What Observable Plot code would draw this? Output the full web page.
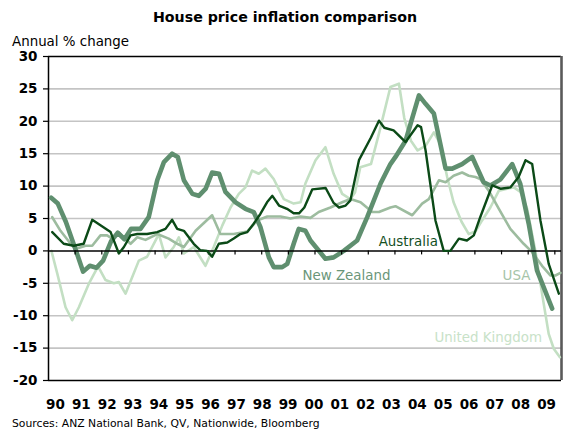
<!DOCTYPE html>
<html><head><meta charset="utf-8">
<script src="https://cdn.jsdelivr.net/npm/d3@7"></script>
<script src="https://cdn.jsdelivr.net/npm/@observablehq/plot@0.6"></script>
<style>
body{margin:0;background:#fff;font-family:"DejaVu Sans",Verdana,sans-serif;}
#wrap{position:relative;width:578px;height:435px;overflow:hidden;}
#wrap svg{position:absolute;left:0;top:0;}
.t{position:absolute;white-space:nowrap;color:#000;z-index:2;}
#title{left:0;width:570px;text-align:center;top:9px;font-size:14.2px;font-weight:bold;}
#ylab{left:12px;top:34px;font-size:13.4px;}
#src{left:12px;top:417px;font-size:10.8px;}
</style></head><body>
<div id="wrap">
<div class="t" id="title">House price inflation comparison</div>
<div class="t" id="ylab">Annual % change</div>
<div class="t" id="src">Sources: ANZ National Bank, QV, Nationwide, Bloomberg</div>
</div>
<script>
// ---- data ----
const ausYears = [1990.14,1990.57,1990.95,1991.32,1991.64,1992.33,1992.64,1992.83,1993.08,1993.33,1993.70,1994.08,1994.39,1994.64,1994.83,1995.08,1995.45,1995.70,1995.95,1996.14,1996.39,1996.71,1996.95,1997.20,1997.46,1997.70,1997.95,1998.2,1998.4,1998.65,1998.95,1999.2,1999.4,1999.6,1999.9,2000.4,2000.7,2000.9,2001.15,2001.33,2001.65,2002.1,2002.4,2002.6,2002.95,2003.4,2003.85,2003.98,2004.15,2004.52,2004.83,2005.08,2005.4,2005.7,2005.96,2006.2,2006.65,2006.96,2007.33,2007.64,2007.9,2008.15,2008.46,2008.77,2009.15];
const ausValues = [2.9,1.1,0.8,1.1,4.8,2.9,-0.4,0.6,2.4,2.6,2.6,2.9,3.4,4.8,3.4,3.1,1.1,0.1,0.0,-0.9,1.1,1.3,1.9,2.6,2.9,4.2,5.7,7.5,8.5,7.0,6.5,5.8,5.8,6.7,9.5,9.7,7.4,6.7,7.0,7.8,14.0,17.5,20.1,19.0,18.6,16.8,19.4,19.1,15.5,4.7,0.0,0.0,1.9,1.6,2.4,5.2,10.1,9.6,9.8,11.4,14.0,13.4,4.7,-2.0,-6.6];

const nzYears = [1990.1,1990.35,1990.65,1990.95,1991.3,1991.55,1991.8,1992.05,1992.35,1992.6,1992.85,1993.1,1993.45,1993.76,1994.08,1994.33,1994.64,1994.85,1995.08,1995.4,1995.64,1995.9,1996.14,1996.4,1996.64,1997.02,1997.39,1997.7,1997.95,1998.27,1998.45,1998.77,1998.96,1999.2,1999.39,1999.64,1999.83,2000.39,2000.7,2001.08,2001.58,2001.96,2002.46,2002.83,2003.02,2003.4,2003.9,2004.15,2004.46,2004.9,2005.15,2005.52,2005.9,2006.33,2006.58,2006.95,2007.4,2007.7,2008.02,2008.33,2008.9];
const nzValues = [8.2,7.3,4.5,1.0,-3.2,-2.3,-2.6,-1.5,1.5,2.8,1.8,3.4,3.4,5.2,10.9,13.7,15.0,14.5,10.9,8.8,8.5,9.6,12.1,11.9,9.1,7.5,6.5,6.0,3.7,-1.0,-2.5,-2.5,-2.0,1.1,3.4,3.1,1.6,-1.2,-1.0,0.0,1.6,5.2,10.4,13.4,14.5,17.0,24.0,22.7,21.2,12.7,12.7,13.4,14.5,10.6,10.1,11.0,13.4,10.4,4.2,-3.0,-8.9];

const usaYears = [1990.14,1990.45,1990.83,1991.01,1991.39,1991.64,1991.95,1992.2,1992.39,1992.64,1993.08,1993.33,1993.64,1994.08,1994.51,1994.83,1995.08,1995.52,1996.14,1996.45,1996.95,1997.46,1997.83,1998.21,1998.71,1999.08,1999.46,1999.83,2000.14,2000.58,2001.02,2001.33,2001.71,2002.15,2002.4,2002.83,2003.02,2003.65,2004.02,2004.27,2004.65,2004.9,2005.2,2005.52,2005.77,2006.02,2006.2,2006.52,2006.9,2007.33,2007.83,2008.15,2008.52,2008.84,2009.02,2009.21];
const usaValues = [5.2,3.1,1.1,0.3,0.8,0.8,2.4,2.4,1.9,2.8,1.1,2.1,1.7,2.6,1.9,1.1,0.6,3.1,5.5,2.6,2.6,3.0,4.7,5.3,5.3,5.0,5.3,5.1,6.0,6.7,7.5,8.0,7.5,6.0,6.0,6.7,6.9,5.5,7.3,8.0,10.9,10.6,11.6,12.1,11.6,11.4,11.1,9.3,6.5,3.4,1.1,-0.2,-2.3,-3.8,-3.8,-3.4];

const ukYears = [1990.11,1990.33,1990.64,1990.89,1991.14,1991.51,1991.86,1992.14,1992.45,1992.64,1992.89,1993.39,1993.70,1994.14,1994.39,1994.70,1994.89,1995.08,1995.45,1995.89,1996.2,1996.52,1996.83,1997.14,1997.39,1997.64,1997.89,1998.14,1998.45,1998.83,1999.2,1999.46,1999.64,2000.02,2000.39,2000.7,2001.02,2001.33,2001.5,2001.7,2002.1,2002.4,2002.83,2003.15,2003.35,2003.6,2003.85,2004.15,2004.46,2004.7,2004.96,2005.2,2005.5,2005.77,2006.02,2006.27,2006.58,2006.9,2007.21,2007.46,2007.71,2007.96,2008.27,2008.52,2008.77,2008.96,2009.19];
const ukValues = [0.0,-3.5,-8.7,-10.7,-8.7,-5.1,-2.4,-4.5,-5.0,-4.8,-6.6,-1.5,-0.9,2.6,-1.0,0.6,2.1,-0.4,0.6,-2.3,0.6,3.9,6.7,8.8,9.8,12.4,11.9,12.7,11.1,8.0,7.3,7.5,10.4,14.0,16.0,11.9,8.8,8.0,9.0,12.9,13.4,18.1,25.3,25.8,20.5,17.0,15.5,16.2,18.3,16.5,11.4,7.5,4.5,2.6,3.0,4.7,6.7,9.3,9.6,9.8,9.1,6.5,0.0,-6.6,-12.8,-15.1,-16.4];

const seriesNames = ["Australia","New Zealand","USA","United Kingdom"];
const labelYears  = [2003.5, 2001.18, 2007.56, 2006.5];
const labelValues = [1.45, -3.8, -3.8, -13.4];

const yTicks = [-20,-15,-10,-5,0,5,10,15,20,25,30];
const gridValues = [-15,-10,-5,5,10,15,20,25];
const xTickYears = d3.range(1991, 2010);
const xTickLabels = ["90","91","92","93","94","95","96","97","98","99","00","01","02","03","04","05","06","07","08","09"];

// ---- styling ----
const colors = {"Australia":"#0b4a17","New Zealand":"#5f8f6f","USA":"#9dbc9f","United Kingdom":"#c3dfc3"};
const labelColors = {"Australia":"#14501f","New Zealand":"#6a9679","USA":"#a6c4a8","United Kingdom":"#c8e2c8"};
const widths = {"Australia":2.4,"New Zealand":4.6,"USA":2.6,"United Kingdom":2.6};

const toRows = (name, xs, vs) => xs.map((x, i) => ({series: name, year: x, value: vs[i]}));
const rows = {
  "Australia": toRows("Australia", ausYears, ausValues),
  "New Zealand": toRows("New Zealand", nzYears, nzValues),
  "USA": toRows("USA", usaYears, usaValues),
  "United Kingdom": toRows("United Kingdom", ukYears, ukValues)
};
const labelRows = seriesNames.map((n, i) => ({name: n, year: labelYears[i], value: labelValues[i]}));
// x tick labels sit slightly off the year ticks, spread evenly from first to last
const xLabelRows = xTickLabels.map((t, i) => ({text: t, pos: 1990.26 + i * (2008.69 - 1990.26) / (xTickLabels.length - 1)}));

const lineMark = n => Plot.line(rows[n], {x: "year", y: "value", stroke: colors[n], strokeWidth: widths[n], strokeLinejoin: "round", strokeLinecap: "round"});

const chart = Plot.plot({
  width: 578, height: 435,
  marginLeft: 48, marginRight: 17, marginTop: 56, marginBottom: 55,
  x: {domain: [1990, 2009.25], axis: null},
  y: {domain: [-20, 30], axis: null},
  style: {fontFamily: "'DejaVu Sans', Verdana, sans-serif", background: "transparent", overflow: "visible"},
  marks: [
    Plot.ruleY(gridValues, {stroke: "#c4c4c4", strokeWidth: 1.6}),
    Plot.ruleY([30, -20], {stroke: "#000", strokeWidth: 1.5}),
    Plot.ruleX([2009.25], {stroke: "#5a5a5a", strokeWidth: 2.6}),
    Plot.ruleX([1990], {stroke: "#000", strokeWidth: 1.5}),
    Plot.ruleY(yTicks, {x1: 1990, x2: 1990, insetLeft: -5, stroke: "#000", strokeWidth: 1.2}),
    Plot.text(yTicks, {x: 1990, y: d => d, text: d => String(d), textAnchor: "end", dx: -11, fontWeight: "bold", fontSize: 13.5, fill: "#000"}),
    Plot.text(xLabelRows, {x: "pos", y: -20, text: "text", dy: 24, fontWeight: "bold", fontSize: 13.5, fill: "#000"}),
    lineMark("United Kingdom"),
    lineMark("USA"),
    lineMark("New Zealand"),
    Plot.ruleY([0], {stroke: "#000", strokeWidth: 1.5}),
    Plot.ruleX(xTickYears, {y1: 0, y2: 0, insetBottom: -4, stroke: "#000", strokeWidth: 1.2}),
    lineMark("Australia"),
    Plot.text(labelRows, {x: "year", y: "value", text: "name", fill: d => labelColors[d.name], fontSize: 13.4})
  ]
});
document.getElementById("wrap").appendChild(chart);
</script>
</body></html>
